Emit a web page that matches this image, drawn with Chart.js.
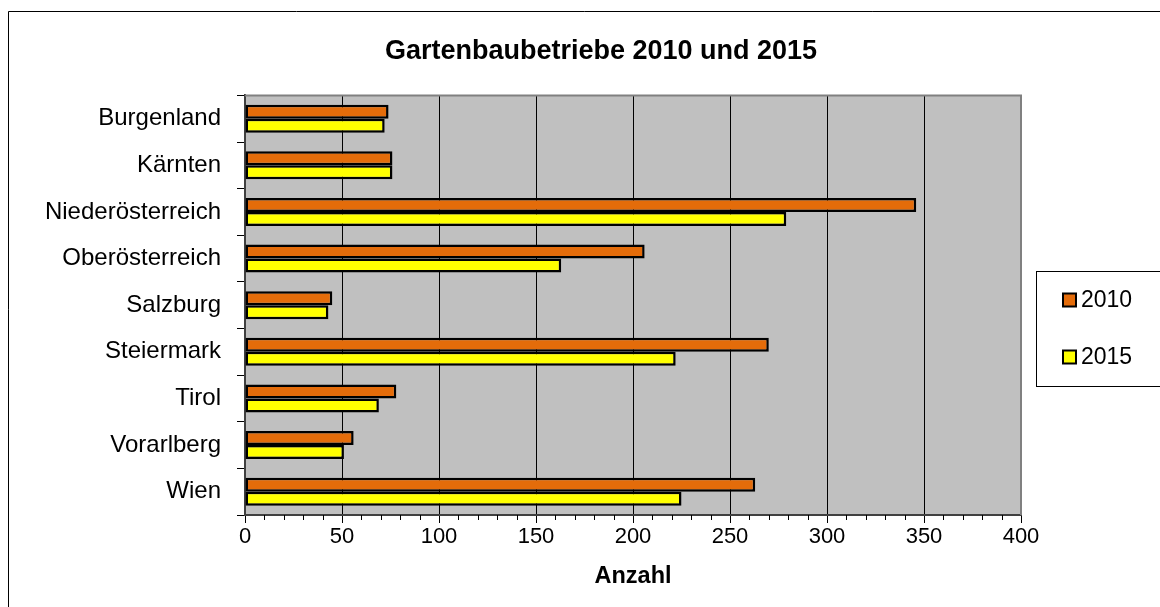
<!DOCTYPE html>
<html>
<head>
<meta charset="utf-8">
<script src="https://cdn.jsdelivr.net/npm/chart.js@4/dist/chart.umd.min.js"></script>
<style>
html,body{margin:0;padding:0;background:#fff;}
canvas{display:block;}
</style>
</head>
<body>
<canvas id="c" width="1160" height="607"></canvas>
<script>
const chartTitle = "Gartenbaubetriebe 2010 und 2015";
const axisTitle = "Anzahl";
const categories = ["Burgenland","Kärnten","Niederösterreich","Oberösterreich","Salzburg","Steiermark","Tirol","Vorarlberg","Wien"];
const seriesNames = ["2010","2015"];
const values2010 = [74, 76, 346, 206, 45, 270, 78, 56, 263];
const values2015 = [72, 76, 279, 163, 43, 222, 69, 51, 225];
const xMin = 0, xMax = 400, xStep = 50, xMinorStep = 10;

const FONT = "'Liberation Sans', Arial, Helvetica, sans-serif";
Chart.defaults.font.family = FONT;
Chart.defaults.color = '#000';

const decor = {
  id: 'decor',
  beforeDraw(chart) {
    const {ctx, chartArea: a} = chart;
    ctx.save();
    ctx.fillStyle = '#fff';
    ctx.fillRect(0, 0, chart.width, chart.height);
    ctx.fillStyle = '#c0c0c0';
    ctx.fillRect(a.left, a.top, a.right - a.left, a.bottom - a.top);
    ctx.restore();
  },
  afterDatasetsDraw(chart) {
    const {ctx, chartArea: a} = chart;
    ctx.save();
    ctx.strokeStyle = '#808080';
    ctx.lineWidth = 2;
    ctx.beginPath();
    ctx.moveTo(a.left, a.top);
    ctx.lineTo(a.right, a.top);
    ctx.lineTo(a.right, a.bottom);
    ctx.stroke();
    ctx.restore();
  },
  afterDraw(chart) {
    const {ctx, chartArea: a} = chart;
    const xs = chart.scales.x;
    ctx.save();
    ctx.strokeStyle = '#000';
    ctx.lineWidth = 1;
    ctx.beginPath();
    for (let v = xMin; v <= xMax; v += xMinorStep) {
      if (v % xStep === 0) continue;
      const px = Math.round(xs.getPixelForValue(v)) + 0.5;
      ctx.moveTo(px, a.bottom);
      ctx.lineTo(px, a.bottom + 5);
    }
    ctx.stroke();
    ctx.beginPath();
    ctx.moveTo(8.5, chart.height + 5);
    ctx.lineTo(8.5, 11.5);
    ctx.lineTo(chart.width + 5, 11.5);
    ctx.stroke();
    ctx.fillStyle = '#fff';
    ctx.fillRect(1036.5, 271.5, 200, 115);
    ctx.strokeRect(1036.5, 271.5, 200, 115);
    const ys = [300, 357];
    chart.data.datasets.forEach((ds, i) => {
      const y = ys[i];
      ctx.fillStyle = ds.backgroundColor;
      ctx.fillRect(1063, y - 6.5, 13, 13);
      ctx.strokeStyle = '#000';
      ctx.lineWidth = 2;
      ctx.strokeRect(1063, y - 6.5, 13, 13);
      ctx.fillStyle = '#000';
      ctx.font = "23px " + FONT;
      ctx.textBaseline = 'middle';
      ctx.textAlign = 'left';
      ctx.fillText(ds.label, 1081, y + 1);
    });
    ctx.restore();
  }
};

new Chart(document.getElementById('c'), {
  type: 'bar',
  data: {
    labels: categories,
    datasets: [
      {label: seriesNames[0], data: values2010, backgroundColor: '#e46c0a', borderColor: '#000', borderWidth: 2.5, borderSkipped: false, categoryPercentage: 0.6, barPercentage: 1.0},
      {label: seriesNames[1], data: values2015, backgroundColor: '#ffff00', borderColor: '#000', borderWidth: 2.5, borderSkipped: false, categoryPercentage: 0.6, barPercentage: 1.0}
    ]
  },
  options: {
    indexAxis: 'y',
    responsive: false,
    animation: false,
    devicePixelRatio: 1,
    layout: {padding: {left: 10, right: -32, top: 0, bottom: 0}},
    plugins: {
      legend: {display: false},
      tooltip: {enabled: false},
      title: {
        display: true,
        text: chartTitle,
        color: '#000',
        font: {size: 27, weight: 'bold', family: FONT, lineHeight: 1.2},
        padding: {top: 35, bottom: 28}
      }
    },
    scales: {
      x: {
        type: 'linear',
        min: xMin, max: xMax,
        ticks: {stepSize: xStep, color: '#000', font: {size: 22}, padding: 1, maxRotation: 0},
        grid: {
          color: (c) => (c.tick && c.tick.value > xMin && c.tick.value < xMax) ? '#000' : 'rgba(0,0,0,0)',
          tickColor: '#000',
          tickLength: 8,
          lineWidth: 1
        },
        border: {display: true, color: '#404040', width: 2},
        title: {display: true, text: axisTitle, color: '#000', font: {size: 23.5, weight: 'bold'}, padding: {top: 4, bottom: 16}},
        afterFit: (s) => { s.height = 92; }
      },
      y: {
        type: 'category',
        ticks: {color: '#000', font: {size: 24}, padding: 16},
        grid: {drawOnChartArea: false, tickColor: '#000', tickLength: 8, offset: true},
        border: {display: true, color: '#404040', width: 2},
        afterFit: (s) => { s.width = 235; }
      },
      y2: {
        type: 'category',
        position: 'right',
        display: true,
        ticks: {display: false},
        grid: {display: false, drawTicks: false},
        border: {display: false},
        afterFit: (s) => { s.width = 171; }
      }
    }
  },
  plugins: [decor]
});
</script>
</body>
</html>
